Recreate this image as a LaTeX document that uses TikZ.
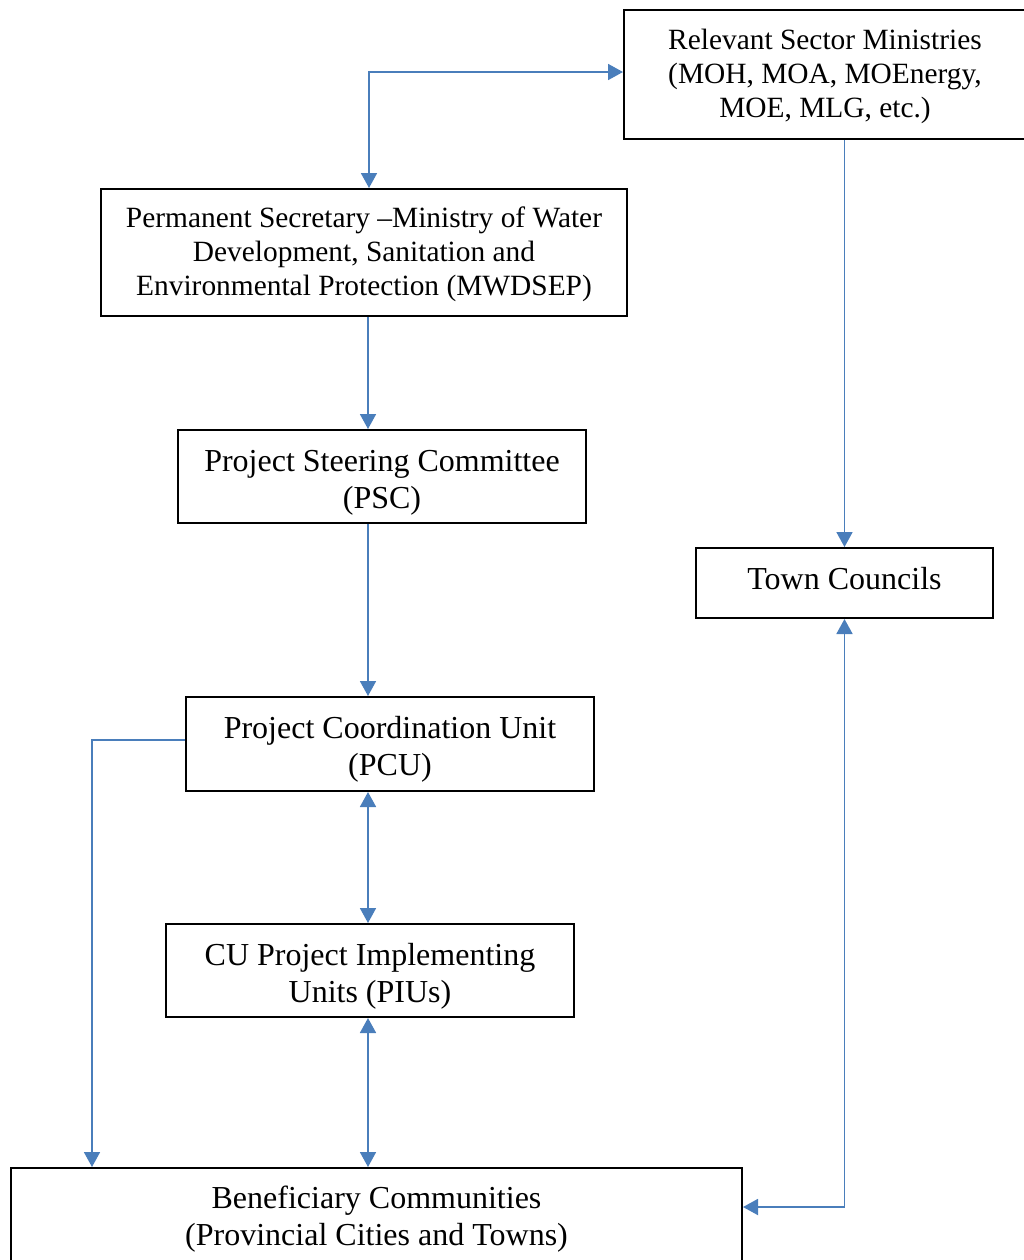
\documentclass[tikz,border=0pt]{standalone}
\usepackage{fontspec}
\setmainfont{Liberation Serif}
\usetikzlibrary{arrows.meta}
\definecolor{linkblue}{RGB}{74,126,187}
% text block lowered inside its box, box size kept
\newcommand{\boxlines}[2]{\raisebox{-#1}[\height][\depth]{\begin{tabular}{@{}c@{}}#2\end{tabular}}}

\begin{document}
\begin{tikzpicture}[
        x=0.5pt, y=-0.5pt,
        box/.style={rectangle, draw, line width=1pt, align=center, inner sep=0pt},
        bigtxt/.style={font=\fontsize{16}{18.5}\selectfont},
        smalltxt/.style={font=\fontsize{14.7}{17}\selectfont},
        arrow/.style={-{Triangle[length=7.5pt, width=8pt]}, linkblue, line width=0.9pt},
        twoway/.style={{Triangle[length=7.5pt, width=8pt]}-{Triangle[length=7.5pt, width=8pt]}, linkblue, line width=0.9pt}
    ]
        \useasboundingbox (0,0) rectangle (1024,1260);

        % Ministries and permanent secretary
        \node[box, smalltxt, minimum width=201pt, minimum height=64.5pt] (mins) at (825,74.5) {\boxlines{1pt}{Relevant Sector Ministries\\(MOH, MOA, MOEnergy,\\MOE, MLG, etc.)}};
        \node[box, smalltxt, minimum width=263pt, minimum height=63.5pt] (ps) at (364,252.5) {\boxlines{1pt}{Permanent Secretary --Ministry of Water\\Development, Sanitation and\\Environmental Protection (MWDSEP)}};

        % Project units
        \node[box, bigtxt, minimum width=204pt, minimum height=46.5pt] (psc) at (382,476.5) {\boxlines{3pt}{Project Steering Committee\\(PSC)}};
        \node[box, bigtxt, minimum width=204pt, minimum height=47pt] (pcu) at (390,744) {\boxlines{3pt}{Project Coordination Unit\\(PCU)}};
        \node[box, bigtxt, minimum width=204pt, minimum height=46.5pt] (piu) at (370,970.5) {\boxlines{3.25pt}{CU Project Implementing\\Units (PIUs)}};

        % Town councils and communities
        \node[box, bigtxt, minimum width=148.5pt, minimum height=35pt] (tc) at (844.5,583) {\boxlines{-0.5pt}{Town Councils}};
        \node[box, bigtxt, minimum width=365.5pt, minimum height=48.5pt] (ben) at (376.5,1216.5) {\boxlines{1.75pt}{Beneficiary Communities\\(Provincial Cities and Towns)}};

        % Helper points
        \coordinate (split) at (369,72);
        \coordinate (spine) at (368,0);
        \coordinate (lbend) at (92,740);
        \coordinate (rbend) at (850,1207);

        % Main chain
        \draw[twoway] (split |- ps.north) -- (split) -- (split -| mins.west);
        \draw[arrow] (spine |- ps.south) -- (spine |- psc.north);
        \draw[arrow] (spine |- psc.south) -- (spine |- pcu.north);
        \draw[twoway] (spine |- pcu.south) -- (spine |- piu.north);
        \draw[twoway] (spine |- piu.south) -- (spine |- ben.north);

        % Side links
        \draw[arrow] (pcu.west |- lbend) -- (lbend) -- (lbend |- ben.north);
        \draw[arrow] (tc.north |- mins.south) -- (tc.north);
        \draw[twoway] (tc.south) -- (tc.south |- rbend) -- (ben.east |- rbend);
    \end{tikzpicture}
\end{document}
